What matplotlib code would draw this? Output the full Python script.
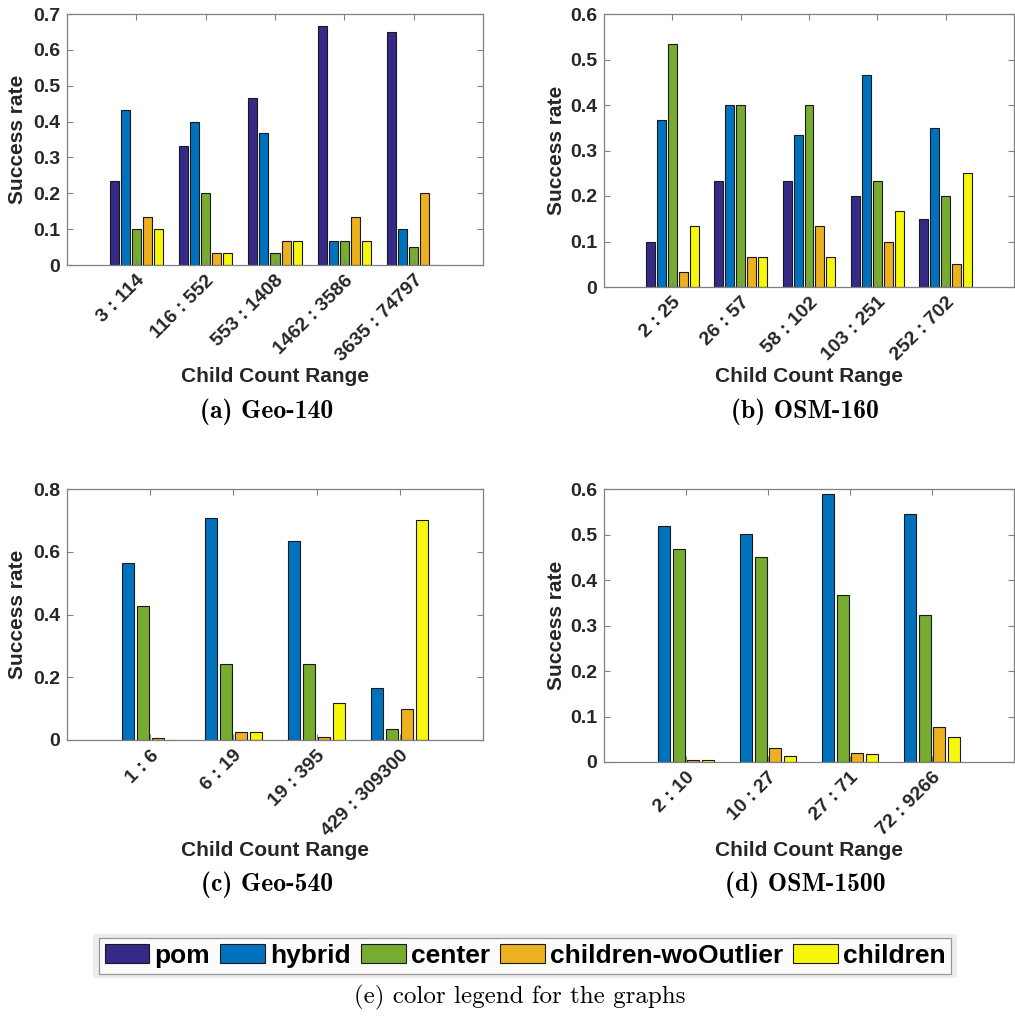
import os
import numpy as np
import matplotlib
matplotlib.use('Agg')
import matplotlib.pyplot as plt
from matplotlib.font_manager import FontProperties
from matplotlib.patches import Rectangle

# series names and colours
series = ['pom', 'hybrid', 'center', 'children-woOutlier', 'children']
colors = ['#352a87', '#0072bd', '#77ac30', '#edb120', '#f7f70c']

# (a) Geo-140
geo140_labels = ['3 : 114', '116 : 552', '553 : 1408', '1462 : 3586', '3635 : 74797']
geo140_pom = [0.233, 0.333, 0.467, 0.667, 0.650]
geo140_hybrid = [0.433, 0.400, 0.367, 0.067, 0.100]
geo140_center = [0.100, 0.200, 0.033, 0.067, 0.050]
geo140_wo = [0.133, 0.033, 0.067, 0.133, 0.200]
geo140_children = [0.100, 0.033, 0.067, 0.067, 0.000]

# (b) OSM-160
osm160_labels = ['2 : 25', '26 : 57', '58 : 102', '103 : 251', '252 : 702']
osm160_pom = [0.100, 0.233, 0.233, 0.200, 0.150]
osm160_hybrid = [0.367, 0.400, 0.333, 0.467, 0.350]
osm160_center = [0.533, 0.400, 0.400, 0.233, 0.200]
osm160_wo = [0.033, 0.067, 0.133, 0.100, 0.050]
osm160_children = [0.133, 0.067, 0.067, 0.167, 0.250]

# (c) Geo-540 (no pom)
geo540_labels = ['1 : 6', '6 : 19', '19 : 395', '429 : 309300']
geo540_hybrid = [0.565, 0.707, 0.633, 0.167]
geo540_center = [0.428, 0.241, 0.241, 0.034]
geo540_wo = [0.005, 0.024, 0.010, 0.100]
geo540_children = [0.000, 0.024, 0.117, 0.700]

# (d) OSM-1500 (no pom)
osm1500_labels = ['2 : 10', '10 : 27', '27 : 71', '72 : 9266']
osm1500_hybrid = [0.518, 0.501, 0.590, 0.545]
osm1500_center = [0.468, 0.451, 0.368, 0.322]
osm1500_wo = [0.005, 0.030, 0.020, 0.077]
osm1500_children = [0.005, 0.014, 0.018, 0.054]

# pos = left, top, right, bottom in pixels; xl/yl = label centres in pixels
panels = [
    dict(labels=geo140_labels, data=[geo140_pom, geo140_hybrid, geo140_center, geo140_wo, geo140_children],
         idx=[0, 1, 2, 3, 4], ymax=0.7, ystep=0.1, pos=[67, 14, 483, 265], xl=376, yl=18,
         cap='(a) Geo-140', capxy=(267, 412)),
    dict(labels=osm160_labels, data=[osm160_pom, osm160_hybrid, osm160_center, osm160_wo, osm160_children],
         idx=[0, 1, 2, 3, 4], ymax=0.6, ystep=0.1, pos=[604, 14, 1014, 287], xl=376, yl=557,
         cap='(b) OSM-160', capxy=(805, 412)),
    dict(labels=geo540_labels, data=[geo540_hybrid, geo540_center, geo540_wo, geo540_children],
         idx=[1, 2, 3, 4], ymax=0.8, ystep=0.2, pos=[67, 489, 483, 740], xl=850, yl=18,
         cap='(c) Geo-540', capxy=(267, 885)),
    dict(labels=osm1500_labels, data=[osm1500_hybrid, osm1500_center, osm1500_wo, osm1500_children],
         idx=[1, 2, 3, 4], ymax=0.6, ystep=0.1, pos=[604, 489, 1014, 762], xl=850, yl=557,
         cap='(d) OSM-1500', capxy=(805, 885)),
]

W, H = 1015, 1019
plt.rcParams['font.family'] = ['Liberation Sans', 'DejaVu Sans']
plt.rcParams['font.weight'] = 'bold'

fontdir = os.path.join(matplotlib.get_data_path(), 'fonts', 'ttf')
cm_bold = FontProperties(fname=os.path.join(fontdir, 'cmb10.ttf'), size=18.5)
cm_reg = FontProperties(fname=os.path.join(fontdir, 'cmr10.ttf'), size=18)

fig = plt.figure(figsize=(W / 100, H / 100), dpi=100)
txt = '#262626'
handles = {}

for p in panels:
    l, t, r, b = p['pos']
    ax = fig.add_axes([l / W, 1 - b / H, (r - l) / W, (b - t) / H])
    n = len(p['labels'])
    k = len(p['data'])
    x = np.arange(1, n + 1)
    step = 0.16 if k == 5 else 0.18
    width = step * 0.82
    for j, (vals, ci) in enumerate(zip(p['data'], p['idx'])):
        off = (j - (k - 1) / 2) * step
        bars = ax.bar(x + off, vals, width, color=colors[ci], edgecolor='#1a1a1a', linewidth=0.8,
                      label=series[ci])
        handles[ci] = bars
    ax.set_xlim(0, n + 1)
    ax.set_ylim(0, p['ymax'])
    ax.set_yticks(np.arange(0, p['ymax'] + 1e-9, p['ystep']))
    ax.yaxis.set_major_formatter(matplotlib.ticker.FuncFormatter(lambda v, _: f'{v:g}'))
    ax.set_xticks(x)
    ax.set_xticklabels(p['labels'], rotation=45, ha='right', va='top', rotation_mode='anchor')
    ax.tick_params(direction='in', top=True, right=True, length=4, width=0.8, color='#808080',
                   labelsize=14, labelcolor=txt, pad=5)
    for s in ax.spines.values():
        s.set_color('#808080')
        s.set_linewidth(0.9)
    ax.set_ylabel('Success rate', fontsize=15, fontweight='bold', color=txt)
    ax.set_xlabel('Child Count Range', fontsize=15, fontweight='bold', color=txt)
    ax.xaxis.set_label_coords(0.5, (b - p['xl']) / (b - t))
    ax.xaxis.label.set_verticalalignment('center')
    ax.yaxis.set_label_coords((p['yl'] - l) / (r - l), 0.5)
    ax.yaxis.label.set_verticalalignment('center')
    fig.text(p['capxy'][0] / W, 1 - p['capxy'][1] / H, p['cap'], fontproperties=cm_bold,
             ha='center', va='center', color='black')

# legend with light grey surround
fig.patches.append(Rectangle((93 / W, 1 - 978 / H), 864 / W, 44 / H, transform=fig.transFigure,
                             facecolor='#ededed', edgecolor='none', zorder=0))
leg = fig.legend([handles[i] for i in range(5)], series, loc='center', ncol=5,
                 bbox_to_anchor=(525 / W, 1 - 956 / H), prop={'size': 19, 'weight': 'bold'},
                 frameon=True, fancybox=False, handlelength=1.7, handleheight=0.72,
                 handletextpad=0.19, columnspacing=0.38, borderpad=0.22, borderaxespad=0)
leg.get_frame().set_edgecolor('#808080')
leg.get_frame().set_linewidth(0.9)
fig.text(520 / W, 1 - 997 / H, '(e) color legend for the graphs', fontproperties=cm_reg,
         ha='center', va='center', color='black')

fig.savefig('out.png', dpi=100)
